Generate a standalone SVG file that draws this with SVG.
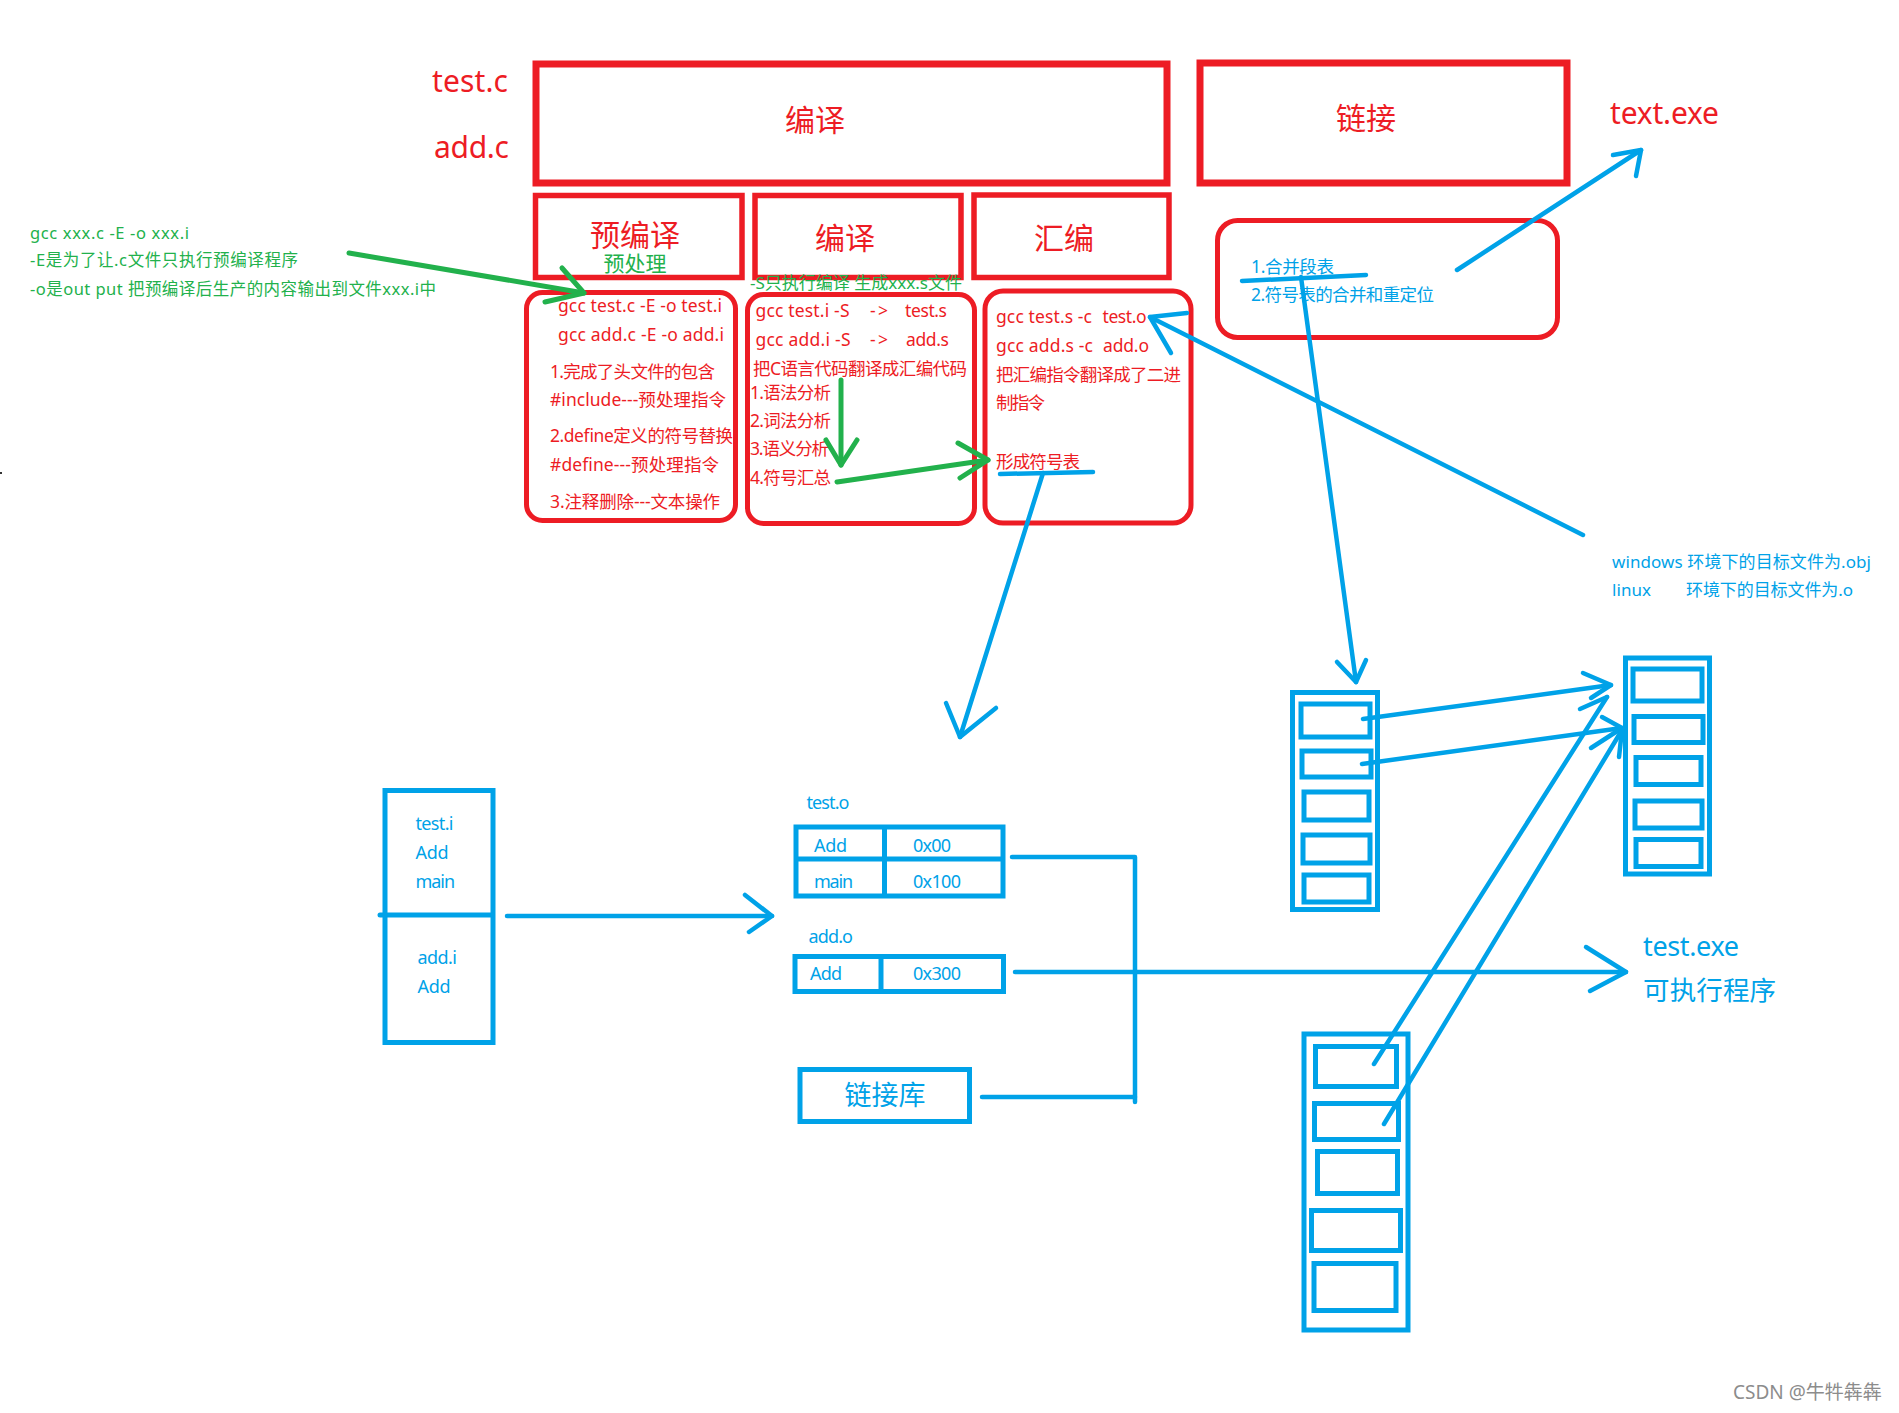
<svg xmlns="http://www.w3.org/2000/svg" width="1899" height="1413" viewBox="0 0 1899 1413">
<style>
text{font-family:"Noto Sans","Noto Sans CJK SC",sans-serif;}
.rt{fill:#ed1c24;}
.bt{fill:#00a2e8;}
.gt{fill:#22b14c;}
.rb{fill:none;stroke:#ed1c24;}
.bb{fill:none;stroke:#00a2e8;stroke-width:5;}
.bl{fill:none;stroke:#00a2e8;stroke-width:4.5;stroke-linecap:round;stroke-linejoin:round;}
.gl{fill:none;stroke:#22b14c;stroke-width:5;stroke-linecap:round;stroke-linejoin:round;}
.s17{font-size:17.5px;}
.s30{font-size:30px;}
</style>
<rect width="1899" height="1413" fill="#ffffff"/>
<rect x="0" y="472" width="2" height="2" fill="#333"/>

<g id="source-files">
<text class="rt s30" x="432" y="92" textLength="76">test.c</text>
<text class="rt s30" x="434" y="158" textLength="75">add.c</text>
</g>

<g id="compile-stage">
<rect class="rb" x="536" y="64" width="631" height="119" stroke-width="7"/>
<text class="rt s30" x="815" y="131" text-anchor="middle">编译</text>
</g>

<g id="link-stage">
<rect class="rb" x="1200" y="63" width="367" height="120" stroke-width="7"/>
<text class="rt s30" x="1366" y="129" text-anchor="middle">链接</text>
</g>

<g id="text-exe">
<text class="rt s30" x="1610" y="124" textLength="109">text.exe</text>
</g>

<g id="precompile-header">
<rect class="rb" x="535.5" y="195.5" width="206.5" height="82" stroke-width="5.5"/>
<text class="rt s30" x="635" y="246" text-anchor="middle">预编译</text>
<text class="gt" x="635" y="271" font-size="21" text-anchor="middle">预处理</text>
</g>

<g id="compile-header">
<rect class="rb" x="755" y="195.5" width="206" height="82" stroke-width="5.5"/>
<text class="rt s30" x="845" y="249" text-anchor="middle">编译</text>
</g>

<g id="assemble-header">
<rect class="rb" x="974" y="195" width="195" height="82.5" stroke-width="5.5"/>
<text class="rt s30" x="1064" y="249" text-anchor="middle">汇编</text>
</g>

<g id="s-note">
<text class="gt" x="750" y="289" font-size="17" textLength="212">-S只执行编译 生成xxx.s文件</text>
</g>

<g id="e-note">
<text class="gt" x="30" y="239" font-size="16.5" textLength="159">gcc xxx.c -E -o xxx.i</text>
<text class="gt" x="30" y="266" font-size="16.5" textLength="268">-E是为了让.c文件只执行预编译程序</text>
<text class="gt" x="30" y="295" font-size="16.5" textLength="406">-o是out put 把预编译后生产的内容输出到文件xxx.i中</text>
</g>

<g id="precompile-detail">
<rect class="rb" x="526.5" y="292.5" width="209" height="228" rx="16" stroke-width="5"/>
<text class="rt s17" x="558" y="311.5" textLength="164">gcc test.c -E -o test.i</text>
<text class="rt s17" x="558" y="340.5" textLength="166">gcc add.c -E -o add.i</text>
<text class="rt s17" x="550" y="377.5" textLength="165">1.完成了头文件的包含</text>
<text class="rt s17" x="550" y="405.5" textLength="176">#include---预处理指令</text>
<text class="rt s17" x="550" y="441.5" textLength="183">2.define定义的符号替换</text>
<text class="rt s17" x="550" y="470.5" textLength="169">#define---预处理指令</text>
<text class="rt s17" x="550" y="507.5" textLength="170">3.注释删除---文本操作</text>
</g>

<g id="compile-detail">
<rect class="rb" x="747.5" y="294.5" width="227" height="229" rx="16" stroke-width="5"/>
<text class="rt s17" x="755.5" y="317" textLength="94">gcc test.i -S</text>
<text class="rt s17" x="870" y="317" textLength="18">-&gt;</text>
<text class="rt s17" x="905" y="317" textLength="42">test.s</text>
<text class="rt s17" x="755.5" y="346" textLength="95">gcc add.i -S</text>
<text class="rt s17" x="870" y="346" textLength="18">-&gt;</text>
<text class="rt s17" x="906" y="346" textLength="43">add.s</text>
<text class="rt s17" x="753" y="374.5" textLength="214">把C语言代码翻译成汇编代码</text>
<text class="rt s17" x="750" y="398.5" textLength="81">1.语法分析</text>
<text class="rt s17" x="750" y="426.5" textLength="81">2.词法分析</text>
<text class="rt s17" x="750" y="454.5" textLength="79">3.语义分析</text>
<text class="rt s17" x="750" y="483.5" textLength="81">4.符号汇总</text>
</g>

<g id="assemble-detail">
<rect class="rb" x="985" y="291" width="206" height="232" rx="18" stroke-width="5"/>
<text class="rt s17" x="996" y="323" textLength="96">gcc test.s -c</text>
<text class="rt s17" x="1102.5" y="323" textLength="44">test.o</text>
<text class="rt s17" x="996" y="352" textLength="97">gcc add.s -c</text>
<text class="rt s17" x="1103" y="352" textLength="46">add.o</text>
<text class="rt s17" x="996" y="380.5" textLength="185">把汇编指令翻译成了二进</text>
<text class="rt s17" x="996" y="409" textLength="49">制指令</text>
<text class="rt s17" x="996" y="468" textLength="84">形成符号表</text>
</g>

<g id="link-detail">
<rect class="rb" x="1217.5" y="220.5" width="340" height="117" rx="20" stroke-width="5"/>
<text class="bt s17" x="1251" y="273" textLength="83">1.合并段表</text>
<text class="bt s17" x="1251" y="301" textLength="183">2.符号表的合并和重定位</text>
</g>

<g id="obj-note">
<text class="bt" x="1612" y="568" font-size="17" textLength="259">windows 环境下的目标文件为.obj</text>
<text class="bt" x="1612" y="596" font-size="17" textLength="39">linux</text>
<text class="bt" x="1686" y="596" font-size="17" textLength="167">环境下的目标文件为.o</text>
</g>

<g id="source-i-files">
<rect class="bb" x="385" y="790.5" width="108" height="252"/>
<line class="bb" x1="380" y1="915" x2="492" y2="915" stroke-linecap="round"/>
<text class="bt" x="415.5" y="830" font-size="18" textLength="38">test.i</text>
<text class="bt" x="415.5" y="859" font-size="18" textLength="33">Add</text>
<text class="bt" x="415.5" y="888" font-size="18" textLength="39.5">main</text>
<text class="bt" x="417.5" y="964" font-size="18" textLength="39.5">add.i</text>
<text class="bt" x="417.5" y="993" font-size="18" textLength="33">Add</text>
</g>

<g id="test-o">
<text class="bt" x="806.5" y="809" font-size="18" textLength="43">test.o</text>
<rect class="bb" x="796" y="827" width="207" height="69"/>
<line class="bb" x1="796" y1="859" x2="1003" y2="859"/>
<line class="bb" x1="884.5" y1="827" x2="884.5" y2="898"/>
<text class="bt" x="814" y="852" font-size="18" textLength="33">Add</text>
<text class="bt" x="913" y="852" font-size="18" textLength="38">0x00</text>
<text class="bt" x="814" y="888" font-size="18" textLength="39">main</text>
<text class="bt" x="913" y="888" font-size="18" textLength="48">0x100</text>
</g>

<g id="add-o">
<text class="bt" x="808.5" y="943" font-size="18" textLength="44.5">add.o</text>
<rect class="bb" x="795" y="956.5" width="208.5" height="35"/>
<line class="bb" x1="881" y1="956.5" x2="881" y2="991.5"/>
<text class="bt" x="810" y="980" font-size="18" textLength="32">Add</text>
<text class="bt" x="913" y="980" font-size="18" textLength="48">0x300</text>
</g>

<g id="link-lib">
<rect class="bb" x="800" y="1069.5" width="169.5" height="52"/>
<text class="bt" x="885" y="1105" font-size="27" text-anchor="middle">链接库</text>
</g>

<g id="test-exe">
<text class="bt" x="1643" y="956" font-size="27" textLength="96">test.exe</text>
<text class="bt" x="1643" y="1000" font-size="26.5" textLength="133">可执行程序</text>
</g>

<g id="stack-mid">
<rect class="bb" x="1292.5" y="692.5" width="85" height="217"/>
<rect class="bb" x="1301" y="704" width="69" height="33"/>
<rect class="bb" x="1302" y="751" width="69" height="26"/>
<rect class="bb" x="1304" y="792" width="65" height="28"/>
<rect class="bb" x="1303" y="835" width="67" height="28"/>
<rect class="bb" x="1304" y="875" width="65" height="27"/>
</g>

<g id="stack-right">
<rect class="bb" x="1625.5" y="658" width="84" height="216"/>
<rect class="bb" x="1633" y="669" width="69" height="32"/>
<rect class="bb" x="1634" y="716.5" width="69" height="26"/>
<rect class="bb" x="1636" y="757.5" width="65" height="27"/>
<rect class="bb" x="1635" y="801" width="67" height="27"/>
<rect class="bb" x="1636" y="839.5" width="65" height="27"/>
</g>

<g id="stack-bottom">
<rect class="bb" x="1304" y="1034" width="104" height="296"/>
<rect class="bb" x="1315.5" y="1046.5" width="81" height="40"/>
<rect class="bb" x="1314.5" y="1103.5" width="84" height="36"/>
<rect class="bb" x="1317.5" y="1151.5" width="80" height="42"/>
<rect class="bb" x="1311.5" y="1210.5" width="89" height="40"/>
<rect class="bb" x="1314" y="1263.5" width="82" height="47"/>
</g>

<g id="watermark">
<text x="1733" y="1399" font-size="19" fill="#8c8c8c">CSDN @牛牪犇犇</text>
</g>

<g id="connectors">
<line class="gl" x1="349" y1="253" x2="584" y2="293"/>
<polyline class="gl" points="562,268 584,293 545,302"/>
<line class="gl" x1="841" y1="380" x2="841" y2="465"/>
<polyline class="gl" points="826,440 841,465 857,440"/>
<line class="gl" x1="837" y1="482" x2="988" y2="460"/>
<polyline class="gl" points="958,443 988,460 960,478"/>
<line class="bl" x1="1000" y1="474" x2="1093" y2="472"/>
<line class="bl" x1="1043" y1="473" x2="960" y2="737"/>
<polyline class="bl" points="946,703 960,737 996,708"/>
<line class="bl" x1="1242" y1="281" x2="1366" y2="275"/>
<line class="bl" x1="1301" y1="277" x2="1356" y2="682"/>
<polyline class="bl" points="1337,662 1356,682 1366,660"/>
<line class="bl" x1="1457" y1="270" x2="1641" y2="150"/>
<polyline class="bl" points="1613,155 1641,150 1636,176"/>
<line class="bl" x1="1583" y1="535" x2="1150" y2="317"/>
<polyline class="bl" points="1187,313 1150,317 1171,353"/>
<line class="bl" x1="507" y1="916" x2="772" y2="916"/>
<polyline class="bl" points="745,895 772,916 749,932"/>
<polyline class="bl" points="1012,857 1135,857 1135,1102"/>
<line class="bl" x1="982" y1="1097" x2="1135" y2="1097"/>
<line class="bl" x1="1015" y1="972" x2="1626" y2="972"/>
<polyline class="bl" points="1586,947 1626,972 1590,991"/>
<line class="bl" x1="1363" y1="719" x2="1611" y2="685"/>
<polyline class="bl" points="1583,673 1611,685 1591,698"/>
<line class="bl" x1="1362" y1="764" x2="1622" y2="728"/>
<polyline class="bl" points="1602,717 1622,728 1591,748"/>
<line class="bl" x1="1374" y1="1064" x2="1607" y2="697"/>
<polyline class="bl" points="1580,709 1607,697"/>
<line class="bl" x1="1384" y1="1124" x2="1622" y2="730"/>
<polyline class="bl" points="1619,757 1622,730"/>
</g>
</svg>
